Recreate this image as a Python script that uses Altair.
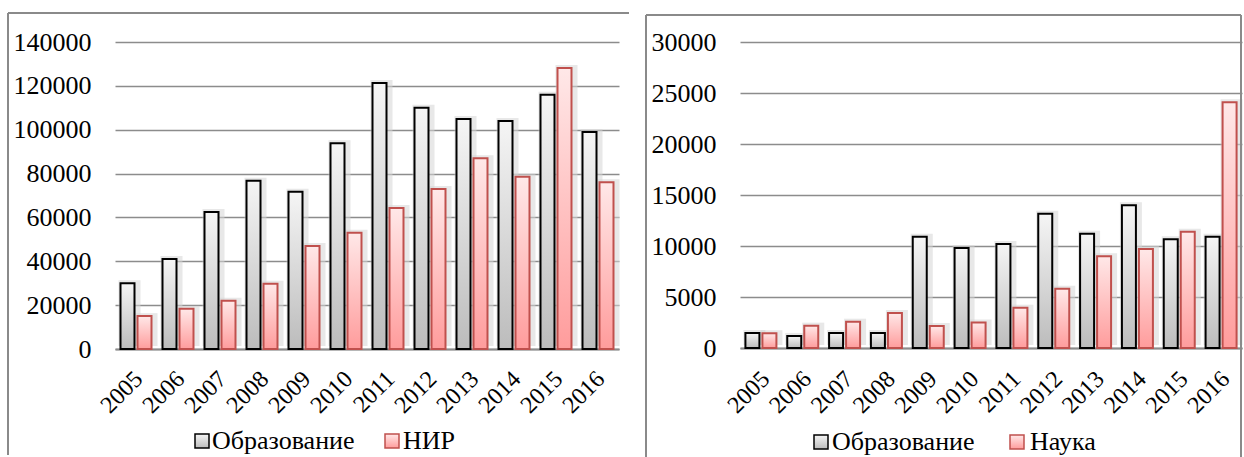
import altair as alt
import pandas as pd

years = list(range(2005, 2017))
edu_a = [30000, 41000, 62500, 76700, 71700, 93800, 121300, 110000, 104900, 104000, 115900, 99000]
nir = [15000, 18300, 22000, 29700, 47000, 53000, 64300, 73000, 87000, 78500, 128100, 76000]
edu_b = [1470, 1180, 1470, 1470, 10900, 9800, 10200, 13170, 11200, 14000, 10650, 10900]
nauka = [1440, 2190, 2580, 3430, 2160, 2500, 3950, 5800, 9000, 9700, 11400, 24100]
names_a = ["Образование", "НИР"]
names_b = ["Образование", "Наука"]
ticks_a = [0, 20000, 40000, 60000, 80000, 100000, 120000, 140000]
ticks_b = [0, 5000, 10000, 15000, 20000, 25000, 30000]

FONT = "Liberation Serif"
GRID = "#8c8c8c"
BORDER = "#8a8a8a"

grad_gray = {"gradient": "linear", "x1": 0, "y1": 0, "x2": 0, "y2": 1,
             "stops": [{"offset": 0, "color": "#f5f5f5"}, {"offset": 1, "color": "#bcbcbc"}]}
grad_pink = {"gradient": "linear", "x1": 0, "y1": 0, "x2": 0, "y2": 1,
             "stops": [{"offset": 0, "color": "#ffe8e8"}, {"offset": 1, "color": "#ff9c9c"}]}
RED = "#c0504d"
BAR_W = 14
OFF = 8.5


def panel(vals1, vals2, names, ticks, w, h, box, legend, lab_pad, lab_off):
    df = pd.DataFrame({"year": years * 2,
                       "series": [names[0]] * len(years) + [names[1]] * len(years),
                       "value": vals1 + vals2})
    x = alt.X("year:O", title=None,
              scale=alt.Scale(paddingInner=0, paddingOuter=0),
              axis=alt.Axis(labelAngle=-45, labelFont=FONT, labelFontSize=24, labelColor="black",
                            labelAlign="right", labelBaseline="middle", labelPadding=lab_pad,
                            labelOffset=lab_off,
                            ticks=False, grid=False, domainColor=GRID, domainWidth=2))
    y = alt.Y("value:Q", title=None,
              scale=alt.Scale(domain=[0, ticks[-1]], nice=False),
              axis=alt.Axis(values=ticks, format="d", labelFont=FONT, labelFontSize=26,
                            labelColor="black", labelPadding=24, ticks=False, domain=False,
                            gridColor=GRID, gridWidth=1.5))
    base = alt.Chart(df).encode(x=x, y=y)
    s1 = base.transform_filter(alt.datum.series == names[0])
    s2 = base.transform_filter(alt.datum.series == names[1])
    layers = [
        s1.mark_bar(color="#d6d6d6", opacity=0.55, width=BAR_W + 8, xOffset=-OFF + 2, yOffset=-3),
        s2.mark_bar(color="#d6d6d6", opacity=0.55, width=BAR_W + 8, xOffset=OFF + 2, yOffset=-3),
        s1.mark_bar(fill=grad_gray, stroke="black", strokeWidth=2, width=BAR_W, xOffset=-OFF),
        s2.mark_bar(fill=grad_pink, stroke=RED, strokeWidth=2, width=BAR_W, xOffset=OFF),
    ]

    one = pd.DataFrame({"k": [0]})
    bl, bt, br, bb = box
    layers.append(alt.Chart(one).mark_rule(color=BORDER, strokeWidth=2).encode(
        x=alt.value(bl), y=alt.value(bt), y2=alt.value(bb)))
    layers.append(alt.Chart(one).mark_rule(color=BORDER, strokeWidth=2).encode(
        x=alt.value(bl), x2=alt.value(br), y=alt.value(bt)))
    if br < w:
        layers.append(alt.Chart(one).mark_rule(color=BORDER, strokeWidth=2).encode(
            x=alt.value(br), y=alt.value(bt), y2=alt.value(bb)))

    fills = [(grad_gray, "black"), (grad_pink, RED)]
    for i, (sx, tx, ly) in enumerate(legend):
        f, s = fills[i]
        layers.append(alt.Chart(one).mark_rect(fill=f, stroke=s, strokeWidth=1.5).encode(
            x=alt.value(sx - 7), x2=alt.value(sx + 7), y=alt.value(ly - 7), y2=alt.value(ly + 7)))
        layers.append(alt.Chart(pd.DataFrame({"label": [names[i]]})).mark_text(
            align="left", baseline="middle", font=FONT, fontSize=26, color="black").encode(
            text="label:N", x=alt.value(tx), y=alt.value(ly)))

    return alt.layer(*layers).properties(width=w, height=h)


left = panel(edu_a, nir, names_a, ticks_a, 504, 307,
             (-107, -29, 514, 413), [(87, 97, 399), (277, 288, 399)], 26, 3)
right = panel(edu_b, nauka, names_b, ticks_b, 502, 306,
              (-94, -27, 501, 415), [(81, 92, 400), (277, 290, 400)], 27, 5)

chart = alt.hconcat(left, right, spacing=15).properties(
    padding={"left": 7, "top": 12, "right": 0, "bottom": 0}
).configure_view(stroke=None)

chart.save("out.html", embed_options={"renderer": "svg", "actions": False})
